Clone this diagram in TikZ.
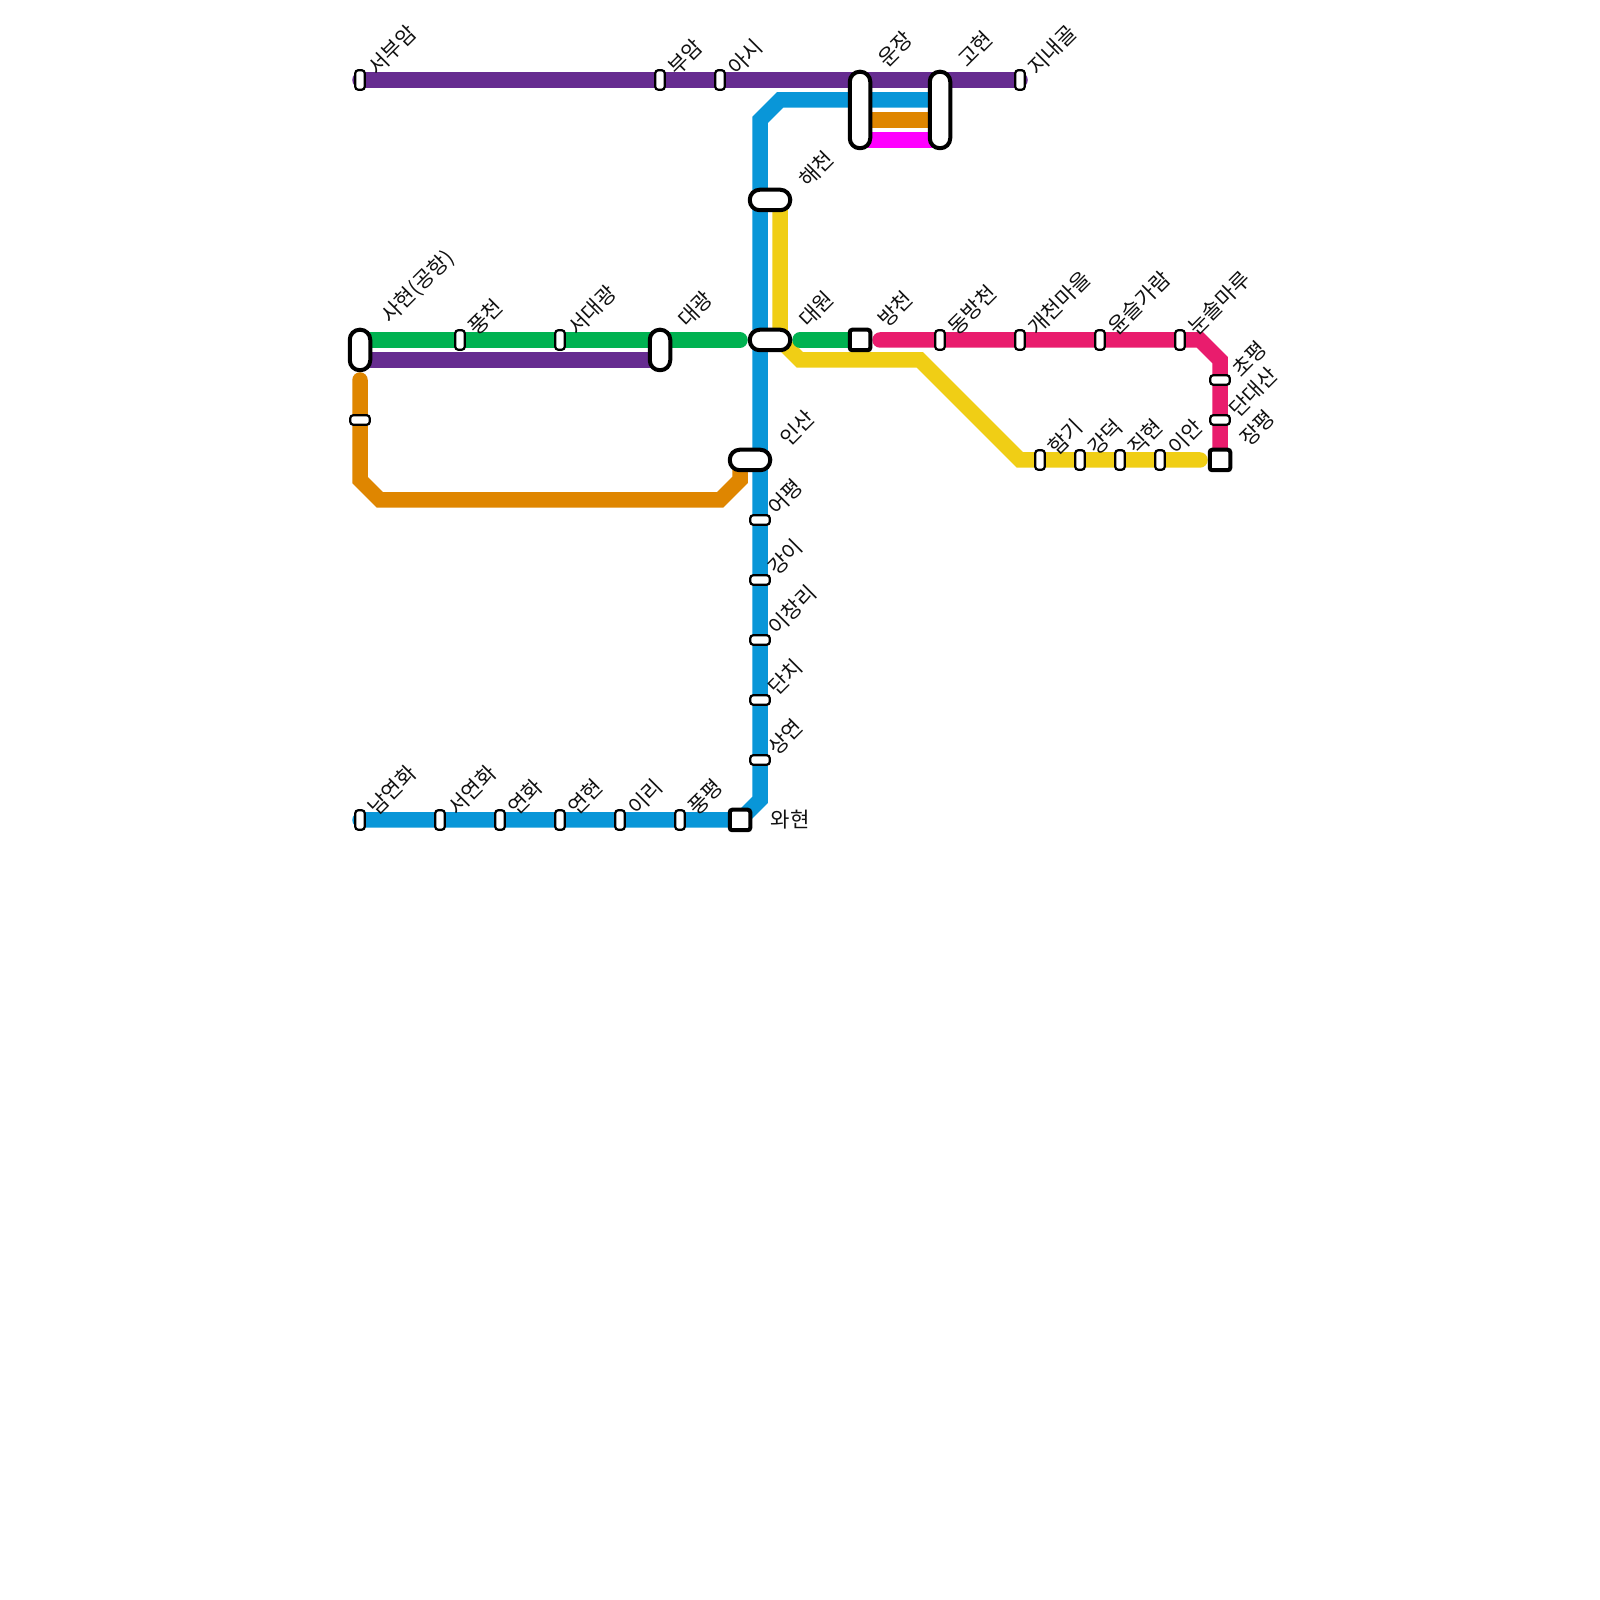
\documentclass[tikz,border=0pt]{standalone}
\usepackage{fontspec}
\newfontfamily\krfont{Noto Sans CJK KR}
\usetikzlibrary{backgrounds}
\definecolor{linepurple}{HTML}{662C90}
\definecolor{lineblue}{HTML}{0996D8}
\definecolor{linegreen}{HTML}{00B251}
\definecolor{lineorange}{HTML}{DF8600}
\definecolor{linemagenta}{HTML}{FF00FF}
\definecolor{lineyellow}{HTML}{F0CE15}
\definecolor{linepink}{HTML}{E91C6D}
\definecolor{ink}{HTML}{111111}
\tikzset{
  metroline/.style={
    line width=1.55mm,
    line cap=round,
    line join=miter
  },
  stationv/.style={
    rectangle,
    rounded corners=0.3mm,
    draw=black,
    line width=0.22mm,
    fill=white,
    inner sep=0pt,
    minimum width=0.95mm,
    minimum height=1.95mm
  },
  stationh/.style={
    stationv,
    minimum width=1.95mm,
    minimum height=0.95mm
  },
  bigstation/.style={
    rectangle,
    rounded corners=1mm,
    draw=black,
    line width=0.4mm,
    fill=white,
    inner sep=0pt,
    minimum width=2.05mm,
    minimum height=4.05mm
  },
  bigstationh/.style={
    bigstation,
    minimum width=4.05mm,
    minimum height=2.05mm
  },
  longstation/.style={
    bigstation,
    minimum height=7.65mm
  },
  endstation/.style={
    bigstation,
    rounded corners=0.25mm,
    minimum height=2.05mm
  },
  labeltext/.style={
    font=\krfont\fontsize{6pt}{6.5pt}\selectfont,
    text=ink,
    inner sep=0pt,
    anchor=west,
    rotate=45
  }
}
\begin{document}
\begin{tikzpicture}[x=1mm,y=1mm]

  \useasboundingbox (0,0) rectangle (160,160);

  % ============================================================
  % Stations
  % ============================================================
  % top row
  \node[stationv] (seobuam) at (36,152) {};
  \node[stationv] (buam) at (66,152) {};
  \node[stationv] (asi) at (72,152) {};
  \node[longstation] (unjang) at (86,149) {};
  \node[longstation] (gohyeon) at (94,149) {};
  \node[stationv] (jinaegol) at (102,152) {};

  % middle row
  \node[bigstation] (sahyeon) at (36,125) {};
  \node[stationv] (pungcheon) at (46,126) {};
  \node[stationv] (seodaegwang) at (56,126) {};
  \node[bigstation] (daegwang) at (66,125) {};
  \node[bigstationh] (haecheon) at (77,140) {};
  \node[bigstationh] (daewon) at (77,126) {};
  \node[endstation] (bangcheon) at (86,126) {};
  \node[stationv] (dongbangcheon) at (94,126) {};
  \node[stationv] (gaecheon) at (102,126) {};
  \node[stationv] (yunseul) at (110,126) {};
  \node[stationv] (nunsol) at (118,126) {};
  \node[stationh] (chopyeong) at (122,122) {};
  \node[stationh] (dandaesan) at (122,118) {};
  \node[endstation] (jangpyeong) at (122,114) {};

  % yellow row
  \node[stationv] (hamgi) at (104,114) {};
  \node[stationv] (gangdeok) at (108,114) {};
  \node[stationv] (jikhyeon) at (112,114) {};
  \node[stationv] (ian) at (116,114) {};

  % blue column and bottom row
  \node[bigstationh] (insan) at (75,114) {};
  \node[stationh] (eopyeong) at (76,108) {};
  \node[stationh] (gangi) at (76,102) {};
  \node[stationh] (ichangni) at (76,96) {};
  \node[stationh] (danchi) at (76,90) {};
  \node[stationh] (sangyeon) at (76,84) {};
  \node[endstation] (wahyeon) at (74,78) {};
  \node[stationv] (namyeonhwa) at (36,78) {};
  \node[stationv] (seoyeonhwa) at (44,78) {};
  \node[stationv] (yeonhwa) at (50,78) {};
  \node[stationv] (yeonhyeon) at (56,78) {};
  \node[stationv] (iri) at (62,78) {};
  \node[stationv] (pungpyeong) at (68,78) {};

  % unlabelled stop on the orange line
  \node[stationh] (orange_stop) at (36,118) {};

  % ============================================================
  % Free ends and bends of the lines
  % ============================================================
  \coordinate (blue_n1) at (94,150);
  \coordinate (blue_n2) at (78,150);
  \coordinate (blue_n3) at (76,148);
  \coordinate (blue_s1) at (76,80);
  \coordinate (orange_e) at (94,148);
  \coordinate (orange_w) at (86,148);
  \coordinate (magenta_e) at (94,146);
  \coordinate (magenta_w) at (86,146);
  \coordinate (purple_w) at (36,124);
  \coordinate (purple_e) at (66,124);
  \coordinate (green_w) at (36,126);
  \coordinate (green_m) at (74,126);
  \coordinate (green_e) at (80,126);
  \coordinate (pink_w) at (88,126);
  \coordinate (pink_b1) at (120,126);
  \coordinate (pink_b2) at (122,124);
  \coordinate (yellow_n) at (78,140);
  \coordinate (yellow_b1) at (78,126);
  \coordinate (yellow_b2) at (80,124);
  \coordinate (yellow_b3) at (92,124);
  \coordinate (yellow_b4) at (102,114);
  \coordinate (yellow_e) at (120,114);
  \coordinate (or_n) at (36,122);
  \coordinate (or_b1) at (36,112);
  \coordinate (or_b2) at (38,110);
  \coordinate (or_b3) at (72,110);
  \coordinate (or_b4) at (74,112);
  \coordinate (or_e) at (74,114);

  % ============================================================
  % Lines, behind the stations
  % ============================================================
  \begin{scope}[on background layer]
    \draw[metroline, linepurple] (seobuam.center) -- (jinaegol.center);
    \draw[metroline, linepurple] (purple_w) -- (purple_e);
    \draw[metroline, lineorange] (orange_w) -- (orange_e);
    \draw[metroline, linemagenta] (magenta_w) -- (magenta_e);
    \draw[metroline, lineorange]
         (or_n) -- (or_b1) -- (or_b2) -- (or_b3) -- (or_b4) -- (or_e);
    \draw[metroline, lineyellow]
         (yellow_n) -- (yellow_b1) -- (yellow_b2) -- (yellow_b3)
         -- (yellow_b4) -- (yellow_e);
    \draw[metroline, lineblue]
         (blue_n1) -- (blue_n2) -- (blue_n3) -- (blue_s1)
         -- (wahyeon.center) -- (namyeonhwa.center);
    \draw[metroline, linegreen] (green_w) -- (green_m);
    \draw[metroline, linegreen] (green_e) -- (bangcheon.center);
    \draw[metroline, linepink]
         (pink_w) -- (pink_b1) -- (pink_b2) -- (jangpyeong.center);
  \end{scope}

  % ============================================================
  % Station names
  % ============================================================
  \node[labeltext] (seobuam_lbl) at (37.1,152.9) {서부암};
  \node[labeltext] (buam_lbl) at (67.1,152.9) {부암};
  \node[labeltext] (asi_lbl) at (73.1,152.9) {아시};
  \node[labeltext] (unjang_lbl) at (88.1,153.7) {운장};
  \node[labeltext] (gohyeon_lbl) at (96.1,153.7) {고현};
  \node[labeltext] (jinaegol_lbl) at (103.1,152.9) {지내골};

  \node[labeltext] (haecheon_lbl) at (80.2,141.7) {해천};
  \node[labeltext] (sahyeon_lbl) at (38.5,128) {사현(공항)};
  \node[labeltext] (pungcheon_lbl) at (47.1,126.9) {풍천};
  \node[labeltext] (seodaegwang_lbl) at (57.1,126.9) {서대광};
  \node[labeltext] (daegwang_lbl) at (68.1,127.7) {대광};
  \node[labeltext] (daewon_lbl) at (80.2,127.7) {대원};
  \node[labeltext] (bangcheon_lbl) at (88.1,127.7) {방천};
  \node[labeltext] (dongbangcheon_lbl) at (95.1,126.9) {동방천};
  \node[labeltext] (gaecheon_lbl) at (103.1,126.9) {개천마을};
  \node[labeltext] (yunseul_lbl) at (111.1,126.9) {윤슬가람};
  \node[labeltext] (nunsol_lbl) at (119.1,126.9) {눈솔마루};
  \node[labeltext] (chopyeong_lbl) at (123.5,122.7) {초평};
  \node[labeltext] (dandaesan_lbl) at (123.2,118.7) {단대산};
  \node[labeltext] (jangpyeong_lbl) at (124.3,115.8) {장평};

  \node[labeltext] (hamgi_lbl) at (105.1,114.9) {함기};
  \node[labeltext] (gangdeok_lbl) at (109.1,114.9) {강덕};
  \node[labeltext] (jikhyeon_lbl) at (113.1,114.9) {직현};
  \node[labeltext] (ian_lbl) at (117.1,114.9) {이안};

  \node[labeltext] (insan_lbl) at (78.3,115.8) {인산};
  \node[labeltext] (eopyeong_lbl) at (77.1,108.9) {어평};
  \node[labeltext] (gangi_lbl) at (77.1,102.9) {강이};
  \node[labeltext] (ichangni_lbl) at (77.1,96.9) {이창리};
  \node[labeltext] (danchi_lbl) at (77.1,90.9) {단치};
  \node[labeltext] (sangyeon_lbl) at (77.1,84.9) {상연};
  \node[labeltext, rotate=-45] (wahyeon_lbl) at (77,78) {와현};

  \node[labeltext] (namyeonhwa_lbl) at (37.1,78.9) {남연화};
  \node[labeltext] (seoyeonhwa_lbl) at (45.1,78.9) {서연화};
  \node[labeltext] (yeonhwa_lbl) at (51.1,78.9) {연화};
  \node[labeltext] (yeonhyeon_lbl) at (57.1,78.9) {연현};
  \node[labeltext] (iri_lbl) at (63.1,78.9) {이리};
  \node[labeltext] (pungpyeong_lbl) at (69.1,78.9) {풍평};

\end{tikzpicture}
\end{document}
